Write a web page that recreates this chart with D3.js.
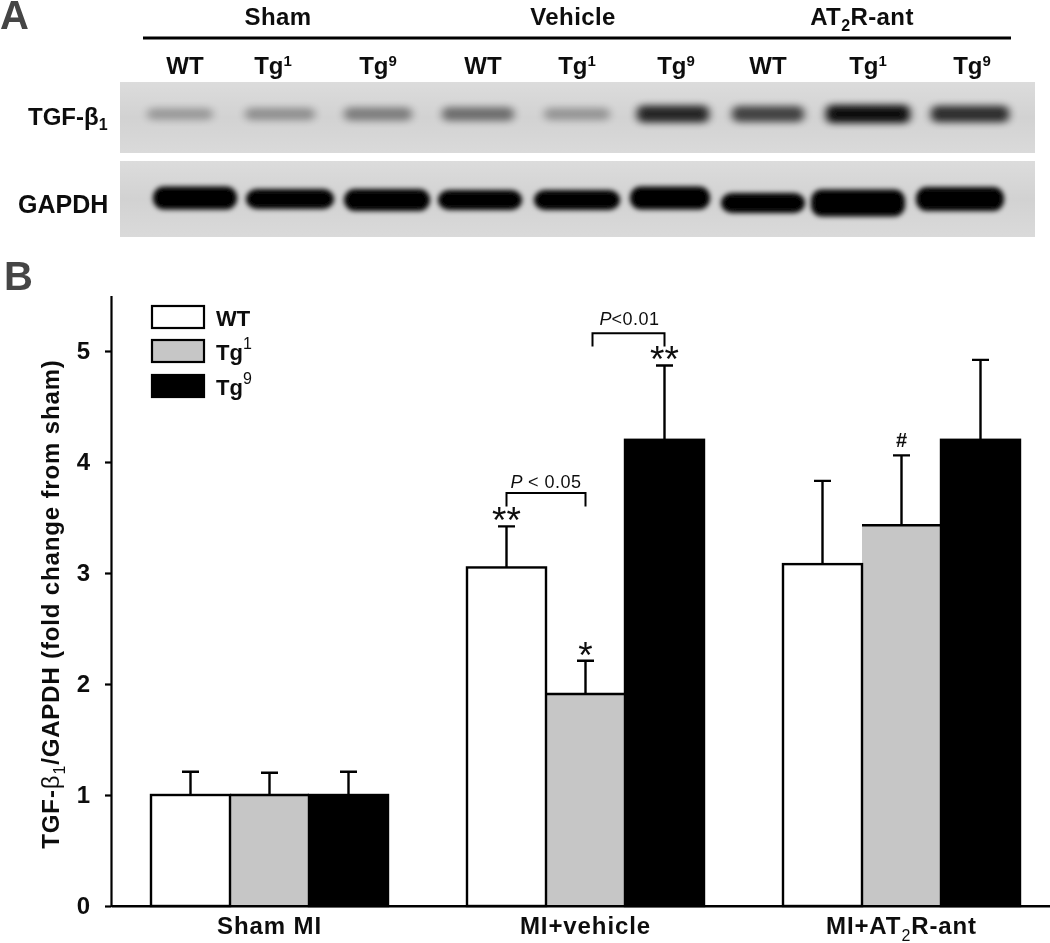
<!DOCTYPE html>
<html><head><meta charset="utf-8">
<script src="https://cdn.jsdelivr.net/npm/d3@7/dist/d3.min.js"></script>
<style>html,body{margin:0;padding:0;background:#fff}svg{display:block}
text{font-family:"Liberation Sans",Arial,sans-serif;fill:#111}</style>
</head><body><svg id="c" width="1050" height="943"></svg>
<script>
// ---- data ----
const groups = ["Sham MI", "MI+vehicle", "MI+AT_2R-ant"];
const series = ["WT", "Tg^1", "Tg^9"];
const seriesFill = ["#ffffff", "#c6c6c6", "#000000"];
const meanWT = [1.00, 3.05, 3.08];
const meanTg1 = [1.00, 1.91, 3.43];
const meanTg9 = [1.00, 4.20, 4.20];
const upperWT = [1.21, 3.42, 3.83];
const upperTg1 = [1.20, 2.21, 4.06];
const upperTg9 = [1.21, 4.87, 4.92];
const yTicks = [0, 1, 2, 3, 4, 5];
const blotHeaders = ["Sham", "Vehicle", "AT_2R-ant"];
const lanes = ["WT", "Tg^1", "Tg^9", "WT", "Tg^1", "Tg^9", "WT", "Tg^1", "Tg^9"];
const tgfDensity = [0.28, 0.33, 0.42, 0.50, 0.30, 0.86, 0.72, 0.98, 0.82];
const gapdhDensity = [1, 1, 1, 1, 1, 1, 1, 1, 1];

// ---- layout ----
const svg = d3.select("#c");
const defs = svg.append("defs");
defs.append("filter").attr("id", "soft").attr("x", "-2%").attr("y", "-2%").attr("width", "104%").attr("height", "104%")
  .append("feGaussianBlur").attr("stdDeviation", 0.45);
defs.append("filter").attr("id", "bandA").attr("x", "-30%").attr("y", "-150%").attr("width", "160%").attr("height", "400%")
  .append("feGaussianBlur").attr("stdDeviation", "4.5 3.6");
defs.append("filter").attr("id", "bandB").attr("x", "-30%").attr("y", "-100%").attr("width", "160%").attr("height", "300%")
  .append("feGaussianBlur").attr("stdDeviation", "2.6 2.6");
const grad = defs.append("linearGradient").attr("id", "bg").attr("x1", 0).attr("x2", 0).attr("y1", 0).attr("y2", 1);
grad.append("stop").attr("offset", 0).attr("stop-color", "#dcdcdc");
grad.append("stop").attr("offset", .5).attr("stop-color", "#d2d2d2");
grad.append("stop").attr("offset", 1).attr("stop-color", "#dadada");

const root = svg.append("g").attr("filter", "url(#soft)");

const y = d3.scaleLinear().domain([0, 5.5]).range([906, 295.5]);
const x0 = d3.scaleBand().domain(groups).range([111, 1060]).paddingInner(0.25).paddingOuter(40 / 316);
const x1 = d3.scaleBand().domain(series).range([0, x0.bandwidth()]);

function rich(sel, s, opts) {
  opts = opts || {};
  const parts = s.split(/([_^]\S)/).filter(p => p !== "");
  let pending = 0;
  parts.forEach(p => {
    if (/^[_^]/.test(p)) {
      const d = p[0] === "^" ? -(opts.up || 8) : (opts.down || 5);
      sel.append("tspan").attr("dy", d + pending).attr("font-size", opts.small || 14)
        .attr("font-weight", opts.smallWeight || "normal").text(p[1]);
      pending = -d;
    } else if (opts.thinBeta && p.includes("β")) {
      const [a, b] = p.split("β");
      const ta = sel.append("tspan").text(a);
      if (pending) ta.attr("dy", pending);
      pending = 0;
      sel.append("tspan").attr("font-weight", "normal").text("β");
      if (b) sel.append("tspan").text(b);
    } else {
      const t = sel.append("tspan").text(p);
      if (pending) t.attr("dy", pending);
      pending = 0;
    }
  });
}

// ---- panel letters ----
root.append("text").attr("x", 0).attr("y", 29).attr("font-size", 40).attr("font-weight", "bold").style("fill", "#444").text("A");
root.append("text").attr("x", 4).attr("y", 290).attr("font-size", 40).attr("font-weight", "bold").style("fill", "#444").text("B");

// ---- blot ----
const laneIdx = lanes.map((d, i) => i);
const tgfX = d3.scaleOrdinal(laneIdx, [180, 280, 378, 478, 577, 673, 768, 868, 970]);
const tgfW = d3.scaleOrdinal(laneIdx, [66, 70, 68, 72, 66, 72, 72, 84, 78]);
const gapX = d3.scaleOrdinal(laneIdx, [195, 290, 387, 480, 577, 670, 763, 858, 960]);
const gapW = d3.scaleOrdinal(laneIdx, [84, 88, 86, 84, 86, 80, 84, 94, 88]);
const gapY = d3.scaleOrdinal(laneIdx, [198, 199, 200, 200, 200, 198, 203, 203, 199]);
const gapH = d3.scaleOrdinal(laneIdx, [23, 20, 22, 20, 20, 23, 20, 27, 24]);
const labelX = d3.scaleOrdinal(laneIdx, [185, 273, 378, 483, 577, 676, 768, 868, 972]);
const headerX = d3.scaleOrdinal(blotHeaders, [278, 573, 862]);
const density = d3.scaleLinear().domain([0, 1]).range([0, 1]);

root.append("rect").attr("x", 120).attr("y", 82).attr("width", 915).attr("height", 71).attr("fill", "url(#bg)");
root.append("rect").attr("x", 120).attr("y", 161).attr("width", 915).attr("height", 76).attr("fill", "url(#bg)");

root.selectAll(".tgf").data(tgfDensity).join("rect").attr("class", "tgf")
  .attr("x", (d, i) => tgfX(i) - tgfW(i) / 2).attr("width", (d, i) => tgfW(i))
  .attr("y", (d) => 114 - 5 - d * 4).attr("height", (d) => 10 + d * 8)
  .attr("rx", 6).attr("fill", "#000").attr("opacity", d => density(d) * 0.95)
  .attr("filter", "url(#bandA)");

root.selectAll(".gap").data(gapdhDensity).join("rect").attr("class", "gap")
  .attr("x", (d, i) => gapX(i) - gapW(i) / 2).attr("width", (d, i) => gapW(i))
  .attr("y", (d, i) => gapY(i) - gapH(i) / 2).attr("height", (d, i) => gapH(i))
  .attr("rx", 11).attr("fill", "#000").attr("opacity", d => density(d))
  .attr("filter", "url(#bandB)");

root.selectAll(".hdr").data(blotHeaders).join("text").attr("class", "hdr")
  .attr("x", d => headerX(d)).attr("y", 25).attr("text-anchor", "middle")
  .attr("font-size", 24).attr("font-weight", "bold").style("letter-spacing", "0.4px")
  .each(function (d) { rich(d3.select(this), d, { small: 16, down: 6, smallWeight: "bold" }); });

root.append("line").attr("x1", 143).attr("x2", 1011).attr("y1", 38).attr("y2", 38).attr("stroke", "#000").attr("stroke-width", 3);

root.selectAll(".lane").data(lanes).join("text").attr("class", "lane")
  .attr("x", (d, i) => labelX(i)).attr("y", 74).attr("text-anchor", "middle")
  .attr("font-size", 24).attr("font-weight", "bold")
  .each(function (d) { rich(d3.select(this), d, { small: 15, up: 8, smallWeight: "bold" }); });

const tgfLabel = root.append("text").attr("x", 28).attr("y", 125).attr("font-size", 24).attr("font-weight", "bold");
rich(tgfLabel, "TGF-β_1", { small: 16, down: 5, smallWeight: "bold" });
root.append("text").attr("x", 18).attr("y", 213).attr("font-size", 25).attr("font-weight", "bold").text("GAPDH");

// ---- axes ----
const yAxis = root.append("g").attr("transform", "translate(111,0)")
  .call(d3.axisLeft(y).tickValues(yTicks).tickSize(6).tickSizeOuter(0).tickPadding(15).tickFormat(d3.format("d")));
const xAxis = root.append("g").attr("transform", "translate(0,906)")
  .call(d3.axisBottom(x0).tickSize(0).tickPadding(10));
yAxis.selectAll("path,line").attr("stroke", "#000").attr("stroke-width", 2.2);
xAxis.selectAll("path").attr("stroke", "#000").attr("stroke-width", 2.2);
yAxis.selectAll("text").attr("font-size", 24).attr("font-weight", "bold").attr("font-family", null);
xAxis.selectAll("text").text(null).attr("font-size", 24).attr("font-weight", "bold").attr("font-family", null)
  .attr("y", 28).attr("dy", 0).style("letter-spacing", "0.9px")
  .each(function (d) { rich(d3.select(this), d, { small: 16, down: 7 }); });

// ---- bars ----
const means = [meanWT, meanTg1, meanTg9];
const uppers = [upperWT, upperTg1, upperTg9];
const barRows = [];
series.forEach((s, si) => groups.forEach((g, gi) => barRows.push({ g, s, si, v: means[si][gi], u: uppers[si][gi] })));
const barX = d => x0(d.g) + x1(d.s);
const barMid = d => barX(d) + x1.bandwidth() / 2;

root.selectAll(".err").data(barRows).join("path").attr("class", "err")
  .attr("d", d => d3.line()([[barMid(d), y(d.v)], [barMid(d), y(d.u)], [barMid(d) - 8.5, y(d.u)], [barMid(d) + 8.5, y(d.u)]]))
  .attr("fill", "none").attr("stroke", "#000").attr("stroke-width", 2.4);

// grey first, so the white bars' right edge and black bars lie on top of it
const order = [1, 0, 2];
order.forEach(si => {
  const rows = barRows.filter(d => d.si === si);
  root.selectAll(".bar" + si).data(rows).join("rect").attr("class", "bar" + si)
    .attr("x", barX).attr("width", x1.bandwidth())
    .attr("y", d => y(d.v)).attr("height", d => y(0) - y(d.v))
    .attr("fill", seriesFill[si])
    .attr("stroke", si === 1 ? "none" : "#000").attr("stroke-width", 2.4);
  if (si === 1) {
    root.selectAll(".barTop").data(rows).join("line").attr("class", "barTop")
      .attr("x1", barX).attr("x2", d => barX(d) + x1.bandwidth())
      .attr("y1", d => y(d.v)).attr("y2", d => y(d.v))
      .attr("stroke", "#000").attr("stroke-width", 2.4);
  }
});
// axis baseline back on top of the bars
root.append("line").attr("x1", 111).attr("x2", 1050).attr("y1", y(0)).attr("y2", y(0)).attr("stroke", "#000").attr("stroke-width", 2.2);

// ---- significance ----
const mid = (gi, si) => x0(groups[gi]) + x1(series[si]) + x1.bandwidth() / 2;
const brackets = [
  { from: mid(1, 0), to: mid(1, 1), top: 3.72, foot: 3.60, label: "P", rest: " < 0.05", labelTop: 3.77 },
  { from: mid(1, 1) + 7, to: mid(1, 2), top: 5.16, foot: 5.04, label: "P", rest: "<0.01", labelTop: 5.235 }
];
brackets.forEach(b => {
  root.append("path").attr("fill", "none").attr("stroke", "#000").attr("stroke-width", 2)
    .attr("d", d3.line()([[b.from, y(b.foot)], [b.from, y(b.top)], [b.to, y(b.top)], [b.to, y(b.foot)]]));
  const t = root.append("text").attr("x", (b.from + b.to) / 2 + (b.rest[0] === " " ? 0 : 1)).attr("y", y(b.labelTop))
    .attr("text-anchor", "middle").attr("font-size", 18).style("white-space", "pre");
  t.append("tspan").attr("font-style", "italic").text(b.label);
  t.append("tspan").style("letter-spacing", "0.5px").text(b.rest);
});
const marks = [
  { x: mid(1, 0), v: upperWT[1], s: "**" },
  { x: mid(1, 1), v: upperTg1[1], s: "*" },
  { x: mid(1, 2), v: upperTg9[1], s: "**" }
];
root.selectAll(".mark").data(marks).join("text").attr("class", "mark")
  .attr("x", d => d.x).attr("y", d => y(d.v) + 7).attr("text-anchor", "middle")
  .attr("font-size", 37).text(d => d.s);
root.append("text").attr("x", mid(2, 1)).attr("y", y(upperTg1[2]) - 8).attr("text-anchor", "middle")
  .attr("font-size", 20).attr("font-weight", "bold").text("#");

// ---- y title ----
const yt = root.append("text").attr("transform", "translate(59,604) rotate(-90)").attr("text-anchor", "middle")
  .attr("font-size", 24).attr("font-weight", "bold").style("letter-spacing", "0.85px");
rich(yt, "TGF-β_1/GAPDH (fold change from sham)", { small: 16, down: 6, thinBeta: true });

// ---- legend ----
const legendY = d3.scaleOrdinal(series, [317, 351, 386]);
const leg = root.selectAll(".leg").data(series).join("g").attr("class", "leg");
leg.append("rect").attr("x", 152).attr("width", 52).attr("y", d => legendY(d) - 11).attr("height", 22)
  .attr("fill", (d, i) => seriesFill[i]).attr("stroke", "#000").attr("stroke-width", 2.2);
leg.append("text").attr("x", 216).attr("y", d => legendY(d) + 9).attr("font-size", 22).attr("font-weight", "bold")
  .each(function (d) { rich(d3.select(this), d, { small: 16, up: 11 }); });
</script>
</body></html>
